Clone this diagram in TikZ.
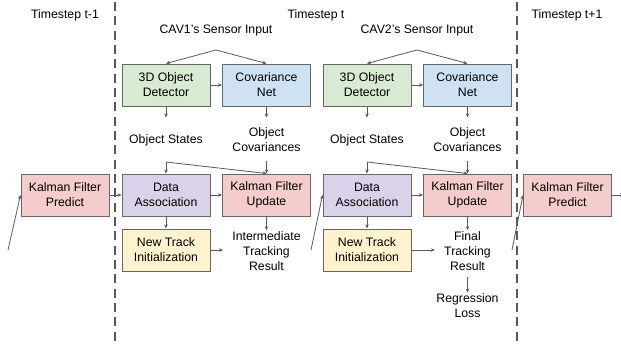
\documentclass[tikz,border=0pt]{standalone}
\usepackage{fontspec}
\setmainfont{Liberation Sans}
\usepackage{tikz}
\usetikzlibrary{arrows.meta}

\definecolor{detgreen}{HTML}{D9EAD3}
\definecolor{covblue}{HTML}{CFE2F3}
\definecolor{kfred}{HTML}{F4CCCC}
\definecolor{dapurple}{HTML}{D9D2E9}
\definecolor{ntiyellow}{HTML}{FFF2CC}
\definecolor{edgegray}{HTML}{666666}
\definecolor{divgray}{HTML}{595959}

\begin{document}
\begin{tikzpicture}[x=0.75pt,y=0.75pt,yscale=-1,
  every node/.style={font=\fontsize{9.2}{11.25}\selectfont},
  box/.style={draw=edgegray,line width=0.75pt,minimum width=66pt,minimum height=31.5pt,inner sep=0pt,align=center},
  lbl/.style={inner sep=0.75pt,align=center},
  arr/.style={draw=divgray,line width=0.6pt,-{Stealth[length=3pt,width=2.6pt]}},
  divider/.style={draw=divgray,line width=1.9pt,dash pattern=on 6.75pt off 4pt}]
\useasboundingbox (0,0) rectangle (621,350);

%Straight Lines: timestep dividers
\draw[divider] (115,2) -- (115,342);
\draw[divider] (517,2) -- (517,342);

% Text Node
\node[lbl] (ts0) at (65,15) {Timestep t-1};
\node[lbl] (ts1) at (316,15) {Timestep t};
\node[lbl] (ts2) at (567,15) {Timestep t+1};
\node[lbl] (in1) at (216,30) {CAV1's Sensor Input};
\node[lbl] (in2) at (417,30) {CAV2's Sensor Input};

%Shape: Rectangle -- CAV1
\node[box,fill=detgreen] (det1) at (166,85) {3D Object\\Detector};
\node[box,fill=covblue] (cov1) at (266.5,85) {Covariance\\Net};
\node[box,fill=dapurple] (da1) at (166,195) {Data\\Association};
\node[box,fill=kfred] (kfu1) at (266.5,195) {Kalman Filter\\Update};
\node[box,fill=ntiyellow] (nti1) at (166,250) {New Track\\Initialization};
%Shape: Rectangle -- CAV2
\node[box,fill=detgreen] (det2) at (367,85) {3D Object\\Detector};
\node[box,fill=covblue] (cov2) at (467.5,85) {Covariance\\Net};
\node[box,fill=dapurple] (da2) at (367,195) {Data\\Association};
\node[box,fill=kfred] (kfu2) at (467.5,195) {Kalman Filter\\Update};
\node[box,fill=ntiyellow] (nti2) at (367,250) {New Track\\Initialization};
%Shape: Rectangle -- predictions
\node[box,fill=kfred] (kfp0) at (65,195) {Kalman Filter\\Predict};
\node[box,fill=kfred] (kfp2) at (567.5,195) {Kalman Filter\\Predict};

% Text Node
\node[lbl] (os1) at (166,140) {Object States};
\node[lbl] (oc1) at (266.5,140) {Object\\Covariances};
\node[lbl] (res1) at (266.5,251) {Intermediate\\Tracking\\Result};
\node[lbl] (os2) at (367,140) {Object States};
\node[lbl] (oc2) at (467.5,140) {Object\\Covariances};
\node[lbl] (res2) at (467.5,251) {Final\\Tracking\\Result};
\node[lbl] (loss) at (467.5,306) {Regression\\Loss};

\coordinate (top1) at (216,50);
\coordinate (top2) at (417,50);
\coordinate (br1) at (166,162);
\coordinate (br2) at (367,162);
\coordinate (prev) at (8,250);
\coordinate (out1) at (311,250);
\coordinate (out2) at (512,250);
\coordinate (next) at (624,195);

%Straight Lines -- CAV1
\draw[arr] (top1) -- (det1.north);
\draw[arr] (top1) -- (cov1.north);
\draw[arr] (det1) -- (cov1);
\draw[arr] (det1.south) -- +(0,11);
\draw[arr] (cov1.south) -- +(0,11);
\draw[arr] (br1) -- (da1);
\draw[arr] (br1) -- (kfu1.north);
\draw[arr,shorten <=6pt] (oc1.south) -- (kfu1.north);
\draw[arr] (kfp0) -- (da1);
\draw[arr] (da1) -- (kfu1);
\draw[arr] (da1) -- (nti1);
\draw[arr] (kfu1) -- (res1);
\draw[arr,shorten >=6pt] (nti1.east) -- (nti1.east -| res1.west);
\draw[arr] (prev) -- (kfp0.west);

%Straight Lines -- CAV2
\draw[arr] (top2) -- (det2.north);
\draw[arr] (top2) -- (cov2.north);
\draw[arr] (det2) -- (cov2);
\draw[arr] (det2.south) -- +(0,11);
\draw[arr] (cov2.south) -- +(0,11);
\draw[arr] (br2) -- (da2);
\draw[arr] (br2) -- (kfu2.north);
\draw[arr,shorten <=6pt] (oc2.south) -- (kfu2.north);
\draw[arr] (da2) -- (kfu2);
\draw[arr] (da2) -- (nti2);
\draw[arr] (kfu2) -- (res2);
\draw[arr,shorten >=6pt] (nti2.east) -- (nti2.east -| res2.west);
\draw[arr,shorten <=4pt] (res2) -- (loss);
\draw[arr] (out1) -- (da2.west);
\draw[arr] (out2) -- (kfp2.west);
\draw[arr] (kfp2) -- (next);

\end{tikzpicture}
\end{document}
